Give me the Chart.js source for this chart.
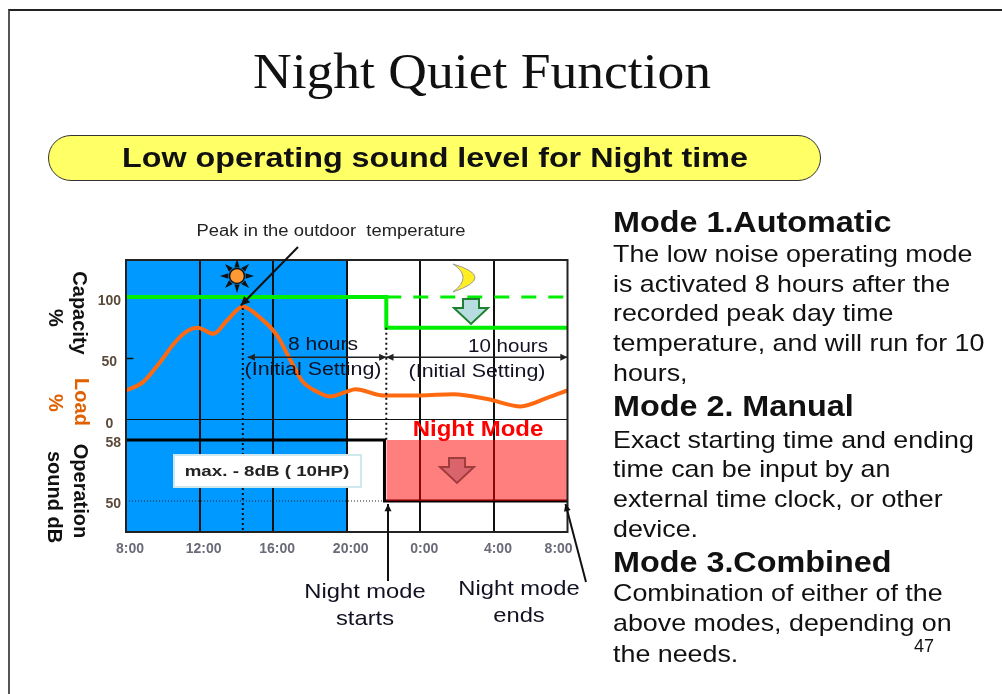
<!DOCTYPE html>
<html>
<head>
<meta charset="utf-8">
<title>Night Quiet Function</title>
<script src="https://cdn.jsdelivr.net/npm/chart.js@4"></script>
<style>
  html, body { margin: 0; padding: 0; background: #fff; overflow: hidden; }
  #page { position: relative; width: 1002px; height: 694px; overflow: hidden; font-family: "Liberation Sans", sans-serif; color: #111; }
  #frame { position: absolute; left: 8px; top: 9px; width: 1000px; height: 700px; border: 2px solid #222; border-left-color: #555; }
  #chart { position: absolute; left: 0; top: 0; }
  .t { position: absolute; white-space: nowrap; line-height: 1; transform-origin: left center; }
  #title { left: 253px; top: 42px; font: 51px "Liberation Serif", serif; transform: scaleX(1.05); }
  #pill { position: absolute; left: 48px; top: 135px; width: 771px; height: 44px; background: #ffff66; border: 1.5px solid #333; border-radius: 23px; }
  #pilltext { left: 122px; top: 144px; font-weight: bold; font-size: 28px; transform: scaleX(1.153); }
  .h { font-weight: bold; font-size: 29px; left: 613px; transform: scaleX(1.115); }
  .b { font-size: 24px; left: 613px; transform: scaleX(1.118); }
</style>
</head>
<body>
<div id="page">
  <div id="frame"></div>
  <canvas id="chart" width="1002" height="694"></canvas>
  <div class="t" id="title">Night Quiet Function</div>
  <div id="pill"></div>
  <div class="t" id="pilltext">Low operating sound level for Night time</div>
  <div class="t h" style="top:208px">Mode 1.Automatic</div>
  <div class="t b" style="top:242px">The low noise operating mode</div>
  <div class="t b" style="top:272px">is activated 8 hours after the</div>
  <div class="t b" style="top:301px">recorded peak day time</div>
  <div class="t b" style="top:331px">temperature, and will run for 10</div>
  <div class="t b" style="top:361px">hours,</div>
  <div class="t h" style="top:392px">Mode 2. Manual</div>
  <div class="t b" style="top:428px">Exact starting time and ending</div>
  <div class="t b" style="top:457px">time can be input by an</div>
  <div class="t b" style="top:487px">external time clock, or other</div>
  <div class="t b" style="top:517px">device.</div>
  <div class="t h" style="top:548px">Mode 3.Combined</div>
  <div class="t b" style="top:581px">Combination of either of the</div>
  <div class="t b" style="top:611px">above modes, depending on</div>
  <div class="t b" style="top:642px">the needs.</div>
  <div class="t" style="left:914px;top:637px;font-size:18px">47</div>
</div>
<script>
// hours run from 8 (8:00) to 32 (8:00 next morning)
const tickHours = [8, 12, 16, 20, 24, 28, 31.3];
const tickLabels = ["8:00", "12:00", "16:00", "20:00", "0:00", "4:00", "8:00"];
const capacityTicks = [0, 50, 100];
const soundTicks = [50, 58];

const peakHour = 14.35;
const nightStart = 22.15;
const dayEnd = 20;

const loadHours = [8, 8.94, 9.85, 10.6, 11.3, 11.9, 12.75, 13.5, 14.35, 15.3, 16.2, 16.93, 17.56, 18.38, 19.1, 20, 20.47, 22, 24, 25.8, 27.65, 29.45, 30.9, 32];
const loadValues = [24, 31, 47, 62, 72, 75, 70, 81, 92, 83, 69, 49, 32, 23, 19, 23, 25, 20, 20, 21, 17, 11, 18, 24];

const capacityHours = [8, 22.15, 22.15, 32];
const capacityValues = [100, 100, 75, 75];
const capacityDashHours = [22.15, 32];
const capacityDashValues = [100, 100];

const soundHours = [8, 22.05, 22.05, 32];
const soundValues = [58, 58, 50, 50];
const nightBandHours = [22.15, 32];
const nightBandValues = [58, 58];

function points(xs, ys) {
    return xs.map((x, i) => ({ x: x, y: ys[i] }));
}

function arrowHead(ctx, x0, y0, x1, y1, size) {
    const a = Math.atan2(y1 - y0, x1 - x0);
    ctx.beginPath();
    ctx.moveTo(x1, y1);
    ctx.lineTo(x1 - size * Math.cos(a - 0.45), y1 - size * Math.sin(a - 0.45));
    ctx.lineTo(x1 - size * Math.cos(a + 0.45), y1 - size * Math.sin(a + 0.45));
    ctx.closePath();
    ctx.fill();
}

function arrow(ctx, x0, y0, x1, y1, width, size) {
    ctx.strokeStyle = ctx.fillStyle = "#111";
    ctx.lineWidth = width;
    ctx.beginPath();
    ctx.moveTo(x0, y0);
    ctx.lineTo(x1, y1);
    ctx.stroke();
    arrowHead(ctx, x0, y0, x1, y1, size);
}

function blockArrow(ctx, cx, top, fill, stroke) {
    ctx.fillStyle = fill;
    ctx.strokeStyle = stroke;
    ctx.lineWidth = 2;
    ctx.beginPath();
    ctx.moveTo(cx - 8, top);
    ctx.lineTo(cx + 8, top);
    ctx.lineTo(cx + 8, top + 9);
    ctx.lineTo(cx + 17, top + 9);
    ctx.lineTo(cx, top + 25);
    ctx.lineTo(cx - 17, top + 9);
    ctx.lineTo(cx - 8, top + 9);
    ctx.closePath();
    ctx.fill();
    ctx.stroke();
}

function sideText(ctx, text, x, y, color) {
    ctx.save();
    ctx.translate(x, y);
    ctx.rotate(Math.PI / 2);
    ctx.textAlign = "center";
    ctx.textBaseline = "middle";
    ctx.fillStyle = color;
    ctx.font = "bold 20px 'Liberation Sans'";
    ctx.fillText(text, 0, 0);
    ctx.restore();
}

// the slide text is a little stretched sideways, so labels take a width factor
function label(ctx, text, x, y, font, color, stretch) {
    ctx.save();
    ctx.translate(x, y);
    ctx.scale(stretch || 1, 1);
    ctx.font = font;
    ctx.fillStyle = color || "#111";
    ctx.textAlign = "center";
    ctx.textBaseline = "middle";
    ctx.fillText(text, 0, 0);
    ctx.restore();
}

// blue daytime band goes under the grid
const bandPlugin = {
    id: "band",
    beforeDraw(chart) {
        const { ctx, chartArea, scales } = chart;
        ctx.save();
        ctx.fillStyle = "#0099ff";
        const right = scales.x.getPixelForValue(dayEnd);
        ctx.fillRect(chartArea.left, chartArea.top, right - chartArea.left, chartArea.bottom - chartArea.top);
        ctx.restore();
    }
};

// slide annotations on top of the plot
const notesPlugin = {
    id: "notes",
    afterDraw(chart) {
        const { ctx, chartArea, scales } = chart;
        const x = scales.x, cap = scales.yCap, db = scales.yDb;
        const peakX = x.getPixelForValue(peakHour);
        const startX = x.getPixelForValue(nightStart);
        const endX = x.getPixelForValue(32);
        const y50 = db.getPixelForValue(50);
        ctx.save();

        // plot frame
        ctx.strokeStyle = "#222";
        ctx.lineWidth = 2;
        ctx.strokeRect(chartArea.left, chartArea.top, chartArea.right - chartArea.left, chartArea.bottom - chartArea.top);

        // dotted markers
        ctx.strokeStyle = "#111";
        ctx.lineWidth = 2;
        ctx.setLineDash([2, 3]);
        ctx.beginPath();
        ctx.moveTo(peakX, cap.getPixelForValue(91));
        ctx.lineTo(peakX, chartArea.bottom);
        ctx.moveTo(startX, cap.getPixelForValue(75));
        ctx.lineTo(startX, db.getPixelForValue(58));
        ctx.stroke();
        ctx.setLineDash([]);

        // peak callout
        label(ctx, "Peak in the outdoor  temperature", 331, 232, "16px 'Liberation Sans'", "#222", 1.15);
        arrow(ctx, 298, 247, peakX - 2, cap.getPixelForValue(93), 2, 10);

        // hour spans
        const spanY = cap.getPixelForValue(51);
        ctx.strokeStyle = "#222";
        ctx.lineWidth = 1.5;
        ctx.beginPath();
        ctx.moveTo(peakX + 5, spanY);
        ctx.lineTo(endX, spanY);
        ctx.stroke();
        ctx.fillStyle = "#222";
        arrowHead(ctx, peakX + 20, spanY, peakX + 5, spanY, 8);
        arrowHead(ctx, startX - 12, spanY, startX, spanY, 8);
        arrowHead(ctx, startX + 12, spanY, startX, spanY, 8);
        arrowHead(ctx, endX - 12, spanY, endX, spanY, 8);
        label(ctx, "8 hours", 323, 345, "18px 'Liberation Sans'", "#112", 1.17);
        label(ctx, "(Initial Setting)", 313, 370, "18px 'Liberation Sans'", "#112", 1.19);
        label(ctx, "10 hours", 508, 347, "18px 'Liberation Sans'", "#112", 1.14);
        label(ctx, "(Initial Setting)", 477, 372, "18px 'Liberation Sans'", "#112", 1.19);

        // night mode block
        label(ctx, "Night Mode", 478, 430, "bold 22px 'Liberation Sans'", "#ff0000", 1.09);
        blockArrow(ctx, 457, 458, "#d9646c", "#a03c3c");

        // capacity drop arrow
        blockArrow(ctx, 471, 299, "#b8dde0", "#1e8030");

        // max box
        ctx.fillStyle = "#fff";
        ctx.strokeStyle = "#cfe8ee";
        ctx.lineWidth = 2;
        ctx.fillRect(174, 455, 187, 32);
        ctx.strokeRect(174, 455, 187, 32);
        label(ctx, "max. - 8dB ( 10HP)", 267, 472, "bold 15px 'Liberation Sans'", "#222", 1.25);

        // sun with pointed rays
        ctx.fillStyle = "#111";
        for (let i = 0; i < 8; i++) {
            const a = i * Math.PI / 4;
            ctx.beginPath();
            ctx.moveTo(237 + Math.cos(a) * 17, 276 + Math.sin(a) * 17);
            ctx.lineTo(237 + Math.cos(a + 0.3) * 9, 276 + Math.sin(a + 0.3) * 9);
            ctx.lineTo(237 + Math.cos(a - 0.3) * 9, 276 + Math.sin(a - 0.3) * 9);
            ctx.closePath();
            ctx.fill();
        }
        ctx.fillStyle = "#ff9933";
        ctx.strokeStyle = "#111";
        ctx.lineWidth = 1.5;
        ctx.beginPath();
        ctx.arc(237, 276, 7.5, 0, Math.PI * 2);
        ctx.fill();
        ctx.stroke();

        // moon
        ctx.fillStyle = "#ffee22";
        ctx.strokeStyle = "#999";
        ctx.lineWidth = 1;
        ctx.beginPath();
        ctx.moveTo(453, 264);
        ctx.quadraticCurveTo(497, 277, 453, 292);
        ctx.quadraticCurveTo(473, 277, 453, 264);
        ctx.fill();
        ctx.stroke();

        // night mode starts / ends
        label(ctx, "Night mode", 365, 592, "21px 'Liberation Sans'", "#112", 1.13);
        label(ctx, "starts", 365, 619, "21px 'Liberation Sans'", "#112", 1.13);
        label(ctx, "Night mode", 519, 589, "21px 'Liberation Sans'", "#112", 1.13);
        label(ctx, "ends", 519, 616, "21px 'Liberation Sans'", "#112", 1.13);
        arrow(ctx, 388, 581, 388, y50 + 3, 2, 8);
        arrow(ctx, 586, 582, endX - 2, y50 + 3, 2, 8);

        // axis side titles
        sideText(ctx, "Capacity", 79, 313, "#111");
        sideText(ctx, "%", 55, 318, "#111");
        sideText(ctx, "Load", 81, 402, "#e06000");
        sideText(ctx, "%", 55, 403, "#e06000");
        sideText(ctx, "Operation", 80, 491, "#111");
        sideText(ctx, "sound dB", 54, 497, "#111");
        ctx.restore();
    }
};

const ctx = document.getElementById("chart").getContext("2d");
const chart = new Chart(ctx, {
    type: "line",
    data: {
        datasets: [
            {
                // red night mode area
                data: points(nightBandHours, nightBandValues),
                yAxisID: "yDb",
                borderWidth: 0,
                backgroundColor: "rgba(255,0,0,0.5)",
                fill: { value: 50 },
                pointRadius: 0
            },
            {
                // panel divider
                data: points([8, 32], [0, 0]),
                yAxisID: "yCap",
                borderColor: "#111",
                borderWidth: 2,
                pointRadius: 0
            },
            {
                // 50% small tick
                data: points([8, 8.4], [50, 50]),
                yAxisID: "yCap",
                borderColor: "#111",
                borderWidth: 1.5,
                pointRadius: 0
            },
            {
                // 50 dB dotted guide
                data: points([8, 22], [50, 50]),
                yAxisID: "yDb",
                borderColor: "#222",
                borderWidth: 1,
                borderDash: [1, 2],
                pointRadius: 0
            },
            {
                data: points(capacityHours, capacityValues),
                yAxisID: "yCap",
                borderColor: "#00ee00",
                borderWidth: 4,
                pointRadius: 0
            },
            {
                data: points(capacityDashHours, capacityDashValues),
                yAxisID: "yCap",
                borderColor: "#00ee00",
                borderWidth: 3,
                borderDash: [15, 12],
                pointRadius: 0
            },
            {
                data: points(loadHours, loadValues),
                yAxisID: "yCap",
                borderColor: "#ff6a10",
                borderWidth: 4,
                cubicInterpolationMode: "monotone",
                pointRadius: 0
            },
            {
                data: points(soundHours, soundValues),
                yAxisID: "yDb",
                borderColor: "#000",
                borderWidth: 3,
                pointRadius: 0
            }
        ]
    },
    plugins: [bandPlugin, notesPlugin],
    options: {
        responsive: false,
        animation: false,
        layout: { padding: { left: 96, right: 434.5, top: 260, bottom: 132 } },
        plugins: { legend: { display: false }, tooltip: { enabled: false } },
        scales: {
            x: {
                type: "linear",
                min: 8,
                max: 32,
                afterBuildTicks: (s) => { s.ticks = tickHours.map((v) => ({ value: v })); },
                afterFit: (s) => { s.height = 30; },
                grid: {
                    color: (c) => (c.index === tickHours.length - 1 ? "transparent" : "#111"),
                    lineWidth: 2,
                    drawTicks: false
                },
                border: { display: false },
                ticks: {
                    autoSkip: false,
                    maxRotation: 0,
                    labelOffset: 4,
                    padding: 9,
                    color: "#6a6a78",
                    font: { family: "Liberation Sans", size: 14, weight: "bold" },
                    callback: (v, i) => tickLabels[i]
                }
            },
            yDb: {
                type: "linear",
                position: "left",
                stack: "left",
                stackWeight: 112,
                min: 45.93,
                max: 60.62,
                afterBuildTicks: (s) => { s.ticks = soundTicks.map((v) => ({ value: v })); },
                afterFit: (s) => { s.width = 30; },
                grid: { drawOnChartArea: false, drawTicks: false },
                border: { display: false },
                ticks: { padding: 5, crossAlign: "center", labelOffset: 3, color: "#5a4a3a", font: { family: "Liberation Sans", size: 14, weight: "bold" } }
            },
            yCap: {
                type: "linear",
                position: "left",
                stack: "left",
                stackWeight: 160,
                min: 0,
                max: 130,
                afterBuildTicks: (s) => { s.ticks = capacityTicks.map((v) => ({ value: v })); },
                afterFit: (s) => { s.width = 30; },
                grid: { drawOnChartArea: false, drawTicks: false },
                border: { display: false },
                ticks: { padding: 5, crossAlign: "center", labelOffset: 4, color: "#5a4a3a", font: { family: "Liberation Sans", size: 14, weight: "bold" } }
            }
        }
    }
});
</script>
</body>
</html>
